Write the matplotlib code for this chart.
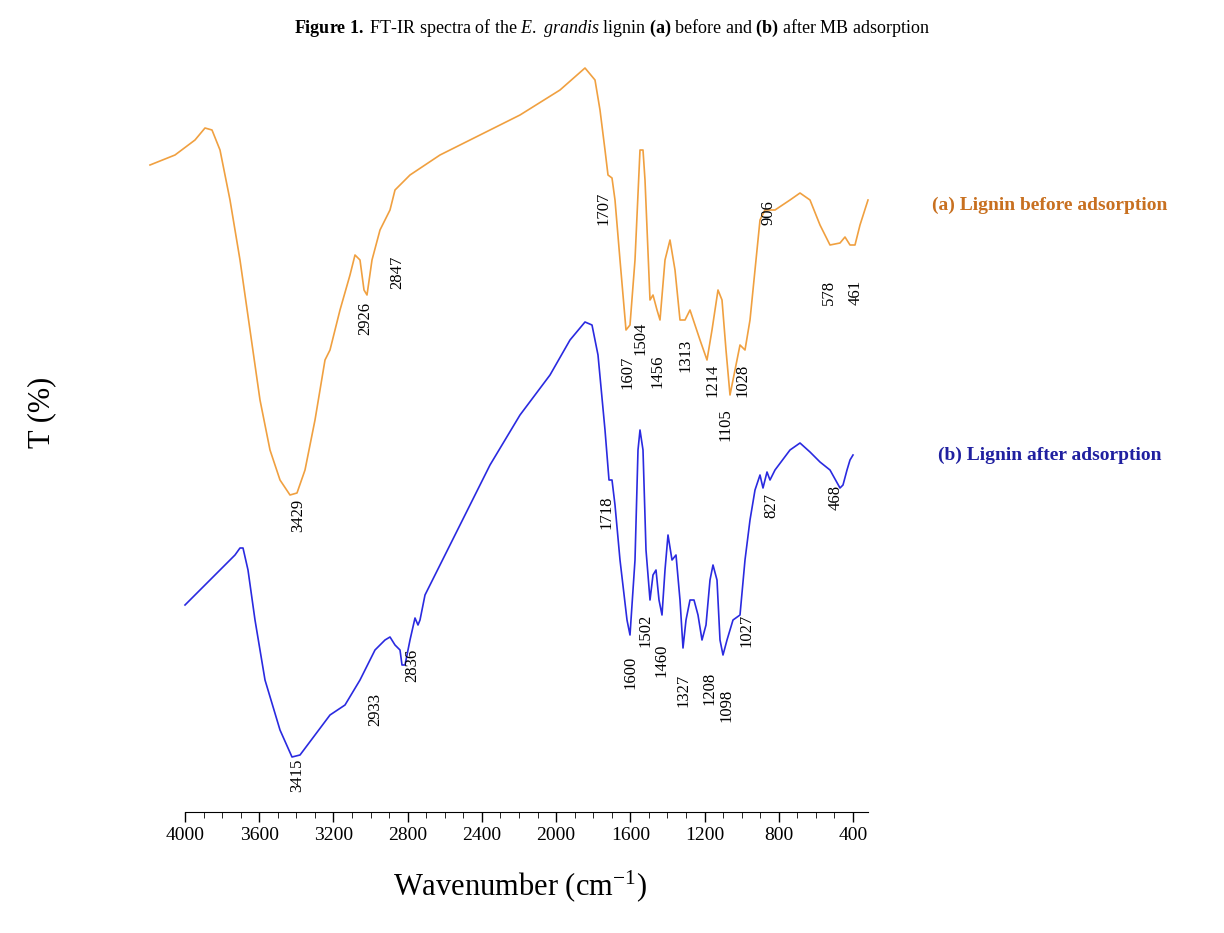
import numpy as np
import matplotlib.pyplot as plt

plt.rcParams['font.family'] = ['Liberation Serif', 'DejaVu Serif']
plt.rcParams['mathtext.fontset'] = 'custom'
plt.rcParams['mathtext.rm'] = 'Liberation Serif'
plt.rcParams['mathtext.it'] = 'Liberation Serif:italic'
plt.rcParams['mathtext.bf'] = 'Liberation Serif:bold'

# curve points: (pixel x, pixel y)
curve_a = [(150,165),(175,155),(195,140),(205,128),(212,130),(220,150),(230,200),(240,260),(250,330),
    (260,400),(270,450),(280,480),(290,495),(297,493),(305,470),(315,420),(325,360),(330,350),(340,310),
    (350,275),(355,255),(360,260),(364,290),(367,295),(372,260),(380,230),(390,210),(395,190),(410,175),
    (440,155),(480,135),(520,115),(560,90),(585,68),(595,80),(600,110),(605,150),(608,175),(612,178),
    (615,200),(620,260),(626,330),(630,325),(635,260),(640,150),(643,150),(645,180),(650,300),(653,295),
    (657,310),(660,320),(665,260),(670,240),(675,270),(680,320),(685,320),(690,310),(695,325),(700,340),
    (707,360),(712,330),(718,290),(722,300),(726,350),(730,395),(735,370),(740,345),(745,350),(750,320),
    (760,220),(765,210),(775,210),(790,200),(800,193),(810,200),(820,225),(830,245),(840,243),(845,237),
    (850,245),(855,245),(860,225),(868,200)]
curve_b = [(185,605),(200,590),(220,570),(235,555),(240,548),(243,548),(248,570),(255,620),(265,680),
    (280,730),(292,757),(300,755),(315,735),(330,715),(345,705),(360,680),(375,650),(385,640),(390,637),
    (395,645),(400,650),(402,665),(405,665),(410,640),(415,618),(418,625),(420,620),(425,595),(440,565),
    (460,525),(490,465),(520,415),(550,375),(570,340),(585,322),(592,325),(598,355),(605,430),(609,480),
    (612,480),(615,505),(620,560),(627,620),(630,635),(635,560),(638,450),(640,430),(643,450),(646,550),
    (650,600),(653,575),(656,570),(659,600),(662,615),(665,570),(668,535),(672,560),(676,555),(680,600),
    (683,648),(686,620),(690,600),(694,600),(698,615),(702,640),(706,625),(710,580),(713,565),(717,580),
    (720,640),(723,655),(727,640),(733,620),(740,615),(745,560),(750,520),(755,490),(760,475),(763,488),
    (767,472),(770,480),(775,470),(790,450),(800,443),(810,452),(820,462),(830,470),(840,488),(843,485),
    (847,470),(850,460),(853,455)]

labels_a = [("3429",298,515),("2926",365,318),("2847",397,272),("1707",603,208),("1607",627,372),
    ("1504",640,338),("1456",657,371),("1313",685,355),("1214",712,380),("1105",725,425),
    ("1028",742,380),("906",769,213),("578",829,292),("461",856,292)]
labels_b = [("3415",297,775),("2933",375,710),("2836",412,665),("1718",606,512),("1600",630,672),
    ("1502",645,630),("1460",661,660),("1327",683,690),("1208",709,688),("1098",726,705),
    ("1027",746,630),("827",771,505),("468",836,497)]

K = 668 / 3600  # px per wavenumber

def wn(px):
    return 4000 - (px - 185) / K

def yv(py):
    return 812 - py

fig = plt.figure(figsize=(12.24, 9.33), dpi=100)
ax = fig.add_axes([140/1224, (933-812)/933, 740/1224, 772/933])
ax.set_xlim(wn(140), wn(880))
ax.set_ylim(0, 772)

for pts, col in [(curve_a, '#f0a040'), (curve_b, '#2a2ae0')]:
    x = [wn(p[0]) for p in pts]
    y = [yv(p[1]) for p in pts]
    ax.plot(x, y, color=col, lw=1.2)

for labs in (labels_a, labels_b):
    for t, px, py in labs:
        ax.text(wn(px), yv(py), t, rotation=90, ha='center', va='center', fontsize=12)

for s in ['left', 'right', 'top']:
    ax.spines[s].set_visible(False)
ax.spines['bottom'].set_bounds(4000, wn(868))
ax.set_yticks([])
ax.set_xticks(np.arange(4000, 399, -400))
ax.set_xticks(np.arange(4000, 399, -100), minor=True)
ax.tick_params(axis='x', labelsize=14, length=7, width=1)
ax.tick_params(axis='x', which='minor', length=4)

fig.text(612/1224, 1 - 28/933, r"$\bf{Figure\ 1.}$ FT-IR spectra of the $\it{E.\ grandis}$ lignin $\bf{(a)}$ before and $\bf{(b)}$ after MB adsorption",
         ha='center', va='center', fontsize=13)
fig.text(1050/1224, 1 - 205/933, "(a) Lignin before adsorption", color='#c87020', fontweight='bold',
         ha='center', va='center', fontsize=14)
fig.text(1050/1224, 1 - 455/933, "(b) Lignin after adsorption", color='#2020a0', fontweight='bold',
         ha='center', va='center', fontsize=14)
fig.text(42/1224, 1 - 412/933, "T (%)", rotation=90, ha='center', va='center', fontsize=22)
fig.text(520/1224, 1 - 886/933, "Wavenumber (cm$^{-1}$)", ha='center', va='center', fontsize=22)

fig.savefig('out.png', dpi=100)
